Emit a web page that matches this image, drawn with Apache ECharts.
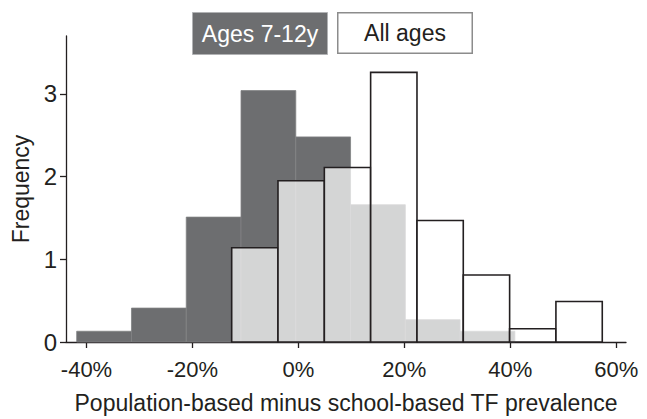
<!DOCTYPE html>
<html>
<head>
<meta charset="utf-8">
<script src="https://cdn.jsdelivr.net/npm/echarts@6/dist/echarts.min.js"></script>
<style>
html,body{margin:0;padding:0;background:#fff;}
#chart{width:647px;height:419px;}
</style>
</head>
<body>
<div id="chart"></div>
<script>
// Bin edges (% difference) and frequencies
const youngEdges = [-41.85, -31.51, -21.17, -10.83, -0.49, 9.85, 20.19, 30.53, 40.87];
const youngFreq  = [0.13, 0.41, 1.51, 3.04, 2.48, 1.66, 0.27, 0.13];
const allEdges   = [-12.59, -3.85, 4.90, 13.64, 22.39, 31.13, 39.88, 48.62, 57.37];
const allFreq    = [1.14, 1.95, 2.11, 3.26, 1.47, 0.81, 0.16, 0.49];
const xTicks = [-40, -20, 0, 20, 40, 60];
const yTicks = [0, 1, 2, 3];
const seriesNames = ['Ages 7-12y', 'All ages'];
const xTitle = 'Population-based minus school-based TF prevalence';
const yTitle = 'Frequency';

function toBins(edges, freq) {
  return freq.map((f, i) => [edges[i], edges[i + 1], f]);
}

const FONT = "'Liberation Sans', Arial, Helvetica, sans-serif";
const TXT = '#231f20';

function makeRender(styleFn) {
  return function (params, api) {
    const p0 = api.coord([api.value(0), api.value(2)]);
    const p1 = api.coord([api.value(1), 0]);
    return {
      type: 'rect',
      shape: { x: p0[0], y: p0[1], width: p1[0] - p0[0], height: p1[1] - p0[1] },
      style: styleFn()
    };
  };
}

const chart = echarts.init(document.getElementById('chart'), null, { renderer: 'svg' });
chart.setOption({
  animation: false,
  backgroundColor: '#ffffff',
  grid: { left: 66, right: 21, top: 36, bottom: 69 },
  xAxis: {
    type: 'value',
    min: -43.87,
    max: 61.85,
    splitLine: { show: false },
    axisLine: { onZero: false, lineStyle: { color: TXT, width: 1.3 } },
    axisTick: { customValues: xTicks, length: 6, lineStyle: { color: TXT, width: 1.3 } },
    axisLabel: {
      customValues: xTicks,
      formatter: v => v + '%',
      fontFamily: FONT, fontSize: 22, lineHeight: 22, color: TXT, margin: 16
    },
    name: xTitle,
    nameLocation: 'middle',
    nameGap: 49,
    nameTextStyle: { fontFamily: FONT, fontSize: 23, lineHeight: 23, color: TXT }
  },
  yAxis: {
    type: 'value',
    min: 0,
    max: 3.70,
    splitLine: { show: false },
    axisLine: { show: true, onZero: false, lineStyle: { color: TXT, width: 1.3 } },
    axisTick: { show: true, customValues: yTicks, length: 6, lineStyle: { color: TXT, width: 1.3 } },
    axisLabel: {
      customValues: yTicks,
      fontFamily: FONT, fontSize: 24, color: TXT, margin: 9
    },
    name: yTitle,
    nameLocation: 'middle',
    nameGap: 29,
    nameTextStyle: { fontFamily: FONT, fontSize: 23, lineHeight: 23, color: TXT }
  },
  series: [
    {
      name: seriesNames[0],
      type: 'custom',
      renderItem: makeRender(() => ({ fill: '#6d6e70', stroke: '#808183', lineWidth: 0.8 })),
      encode: { x: [0, 1], y: 2 },
      data: toBins(youngEdges, youngFreq),
      z: 1
    },
    {
      name: seriesNames[1],
      type: 'custom',
      renderItem: makeRender(() => ({ fill: 'rgba(255,255,255,0.71)', stroke: TXT, lineWidth: 1.6 })),
      encode: { x: [0, 1], y: 2 },
      data: toBins(allEdges, allFreq),
      z: 2
    }
  ],
  graphic: [
    {
      type: 'group', left: 192, top: 12,
      children: [
        { type: 'rect', shape: { x: 0.5, y: 0.5, width: 135, height: 42 },
          style: { fill: '#6d6e70', stroke: '#b1b2b4', lineWidth: 1 } },
        { type: 'text', x: 68, y: 21.5,
          style: { text: seriesNames[0], fill: '#ffffff', font: '23px ' + FONT, align: 'center', verticalAlign: 'middle' } }
      ]
    },
    {
      type: 'group', left: 337, top: 12,
      children: [
        { type: 'rect', shape: { x: 0.75, y: 1.25, width: 134.5, height: 40.5 },
          style: { fill: '#ffffff', stroke: '#8c8c8c', lineWidth: 1.5 } },
        { type: 'text', x: 68, y: 21.5,
          style: { text: seriesNames[1], fill: TXT, font: '23px ' + FONT, align: 'center', verticalAlign: 'middle' } }
      ]
    }
  ]
});
</script>
</body>
</html>
